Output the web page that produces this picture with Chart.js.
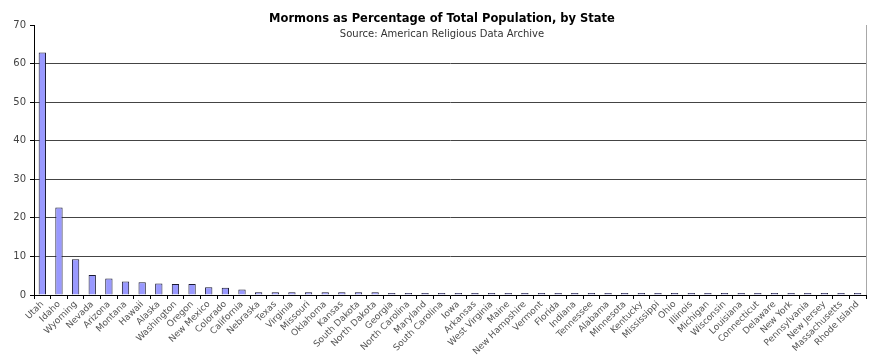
<!DOCTYPE html>
<html>
<head>
<meta charset="utf-8">
<script src="https://cdn.jsdelivr.net/npm/chart.js@4.4.1/dist/chart.umd.min.js"></script>
<style>
  html, body { margin: 0; padding: 0; background: #fff; }
  #wrap { position: relative; width: 882px; height: 363px; }
</style>
</head>
<body>
<div id="wrap"><canvas id="chart" width="882" height="363"></canvas></div>
<script>
var states = ['Utah', 'Idaho', 'Wyoming', 'Nevada', 'Arizona', 'Montana', 'Hawaii', 'Alaska',
    'Washington', 'Oregon', 'New Mexico', 'Colorado', 'California', 'Nebraska', 'Texas',
    'Virginia', 'Missouri', 'Oklahoma', 'Kansas', 'South Dakota', 'North Dakota', 'Georgia',
    'North Carolina', 'Maryland', 'South Carolina', 'Iowa', 'Arkansas', 'West Virginia',
    'Maine', 'New Hampshire', 'Vermont', 'Florida', 'Indiana', 'Tennessee', 'Alabama',
    'Minnesota', 'Kentucky', 'Mississippi', 'Ohio', 'Illinois', 'Michigan', 'Wisconsin',
    'Louisiana', 'Connecticut', 'Delaware', 'New York', 'Pennsylvania', 'New Jersey',
    'Massachusetts', 'Rhode Island'];

var mormonPct = [62.9, 22.7, 9.3, 5.2, 4.3, 3.5, 3.3, 3.0,
    2.85, 2.85, 2.0, 1.9, 1.4, 0.7, 0.7,
    0.7, 0.7, 0.7, 0.7, 0.7, 0.7, 0.5,
    0.5, 0.5, 0.5, 0.5, 0.5, 0.5,
    0.5, 0.5, 0.5, 0.5, 0.35, 0.35, 0.35,
    0.35, 0.35, 0.35, 0.35, 0.35, 0.35, 0.35,
    0.35, 0.35, 0.35, 0.2, 0.2, 0.2,
    0.2, 0.2];

var yTicks = [0, 10, 20, 30, 40, 50, 60, 70];

var titleText = 'Mormons as Percentage of Total Population, by State';
var subtitleText = 'Source: American Religious Data Archive';

// titel + rahmen rechts selbst zeichnen
var extras = {
    id: 'extras',
    afterDraw: function (chart) {
        var ctx = chart.ctx;
        var area = chart.chartArea;
        ctx.save();
        ctx.strokeStyle = '#a8a8a8';
        ctx.lineWidth = 1;
        ctx.beginPath();
        ctx.moveTo(area.right + 0.5, area.top);
        ctx.lineTo(area.right + 0.5, area.bottom);
        ctx.stroke();

        ctx.fillStyle = '#000';
        ctx.textAlign = 'center';
        ctx.textBaseline = 'middle';
        ctx.font = 'bold 11.5px "DejaVu Sans"';
        ctx.fillText(titleText, 442, 19);
        ctx.fillStyle = '#333';
        ctx.font = '10px "DejaVu Sans"';
        ctx.fillText(subtitleText, 442, 34);
        ctx.restore();
    }
};

new Chart(document.getElementById('chart'), {
    type: 'bar',
    data: {
        labels: states,
        datasets: [{
            data: mormonPct,
            backgroundColor: '#9999ff',
            borderColor: '#1a1a33',
            borderWidth: 1,
            minBarLength: 2,
            categoryPercentage: 1,
            barPercentage: 0.44
        }]
    },
    options: {
        responsive: false,
        animation: false,
        layout: { padding: { top: 25, right: 16, left: 0, bottom: 0 } },
        plugins: {
            legend: { display: false },
            tooltip: { enabled: false }
        },
        scales: {
            x: {
                grid: {
                    offset: true,
                    drawOnChartArea: false,
                    tickLength: 4,
                    tickColor: '#000'
                },
                border: { color: '#000', width: 1 },
                ticks: {
                    autoSkip: false,
                    maxRotation: 45,
                    minRotation: 45,
                    padding: 0,
                    color: '#555',
                    font: { family: '"DejaVu Sans"', size: 9 }
                },
                afterFit: function (scale) { scale.height = 68; }
            },
            y: {
                min: 0,
                max: 70,
                afterBuildTicks: function (scale) {
                    scale.ticks = yTicks.map(function (v) { return { value: v }; });
                },
                grid: {
                    color: function (c) {
                        return (c.tick && (c.tick.value === 70 || c.tick.value === 0)) ? 'rgba(0,0,0,0)' : '#444';
                    },
                    tickColor: '#000',
                    tickLength: 4
                },
                border: { color: '#000', width: 1 },
                ticks: {
                    padding: 4,
                    color: '#444',
                    font: { family: '"DejaVu Sans"', size: 10 }
                },
                afterFit: function (scale) { scale.width = 34; }
            }
        }
    },
    plugins: [extras]
});
</script>
</body>
</html>
